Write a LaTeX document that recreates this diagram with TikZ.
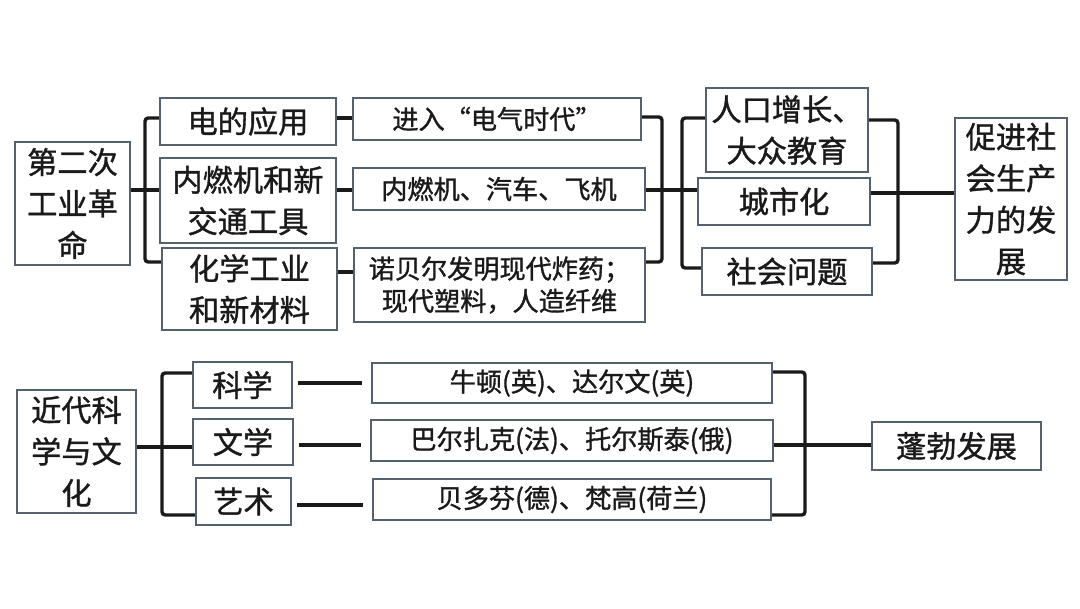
\documentclass[tikz,border=0pt]{standalone}
\usepackage{fontspec}
\setmainfont{Noto Sans CJK SC}[BoldFont={Noto Sans CJK SC},BoldFeatures={FakeBold=1.2}]
\usepackage{tikz}
\definecolor{boxedge}{RGB}{84,98,112}
\definecolor{ink}{RGB}{26,26,26}
\tikzstyle{block}=[rectangle,draw=boxedge,line width=1.6pt,inner sep=0,align=center,text=ink,font=\fontsize{21.5}{29.5}\selectfont\bfseries]
\tikzstyle{small}=[font=\fontsize{18.6}{23}\selectfont\bfseries]
\tikzstyle{link}=[line width=2.4pt,draw=ink,rounded corners=0.08cm]

\begin{document}
\begin{tikzpicture}[x=0.025cm,y=-0.025cm]
    \useasboundingbox (0,0) rectangle (1080,608);

    % second industrial revolution
    \node[block,minimum width=2.875cm,minimum height=3.075cm] (rev) at (72.5,203.5) {第二次\\工业革\\命};
    \node[block,minimum width=4.4cm,minimum height=1.175cm] (elec) at (248,121.5) {电的应用};
    \node[block,minimum width=4.4cm,minimum height=2.125cm] (engine) at (248,200.5) {内燃机和新\\交通工具};
    \node[block,minimum width=4.375cm,minimum height=2.05cm] (chem) at (249.5,289) {化学工业\\和新材料};
    \node[block,small,minimum width=7.2cm,minimum height=1.05cm] (era) at (497,119) {进入“电气时代”};
    \node[block,small,minimum width=7.3cm,minimum height=1.05cm] (cars) at (499,189) {内燃机、汽车、飞机};
    \node[block,small,minimum width=7.275cm,minimum height=1.85cm] (nobel) at (499.5,285) {诺贝尔发明现代炸药；\\现代塑料，人造纤维};
    \node[block,minimum width=4.05cm,minimum height=2.1cm] (people) at (787,130) {人口增长、\\大众教育};
    \node[block,minimum width=4.3cm,minimum height=1.175cm] (city) at (784,201.5) {城市化};
    \node[block,minimum width=4.25cm,minimum height=1.175cm] (issue) at (787,271.5) {社会问题};
    \node[block,minimum width=2.8cm,minimum height=4.05cm] (growth) at (1011,199) {促进社\\会生产\\力的发\\展};

    % modern science and culture
    \node[block,minimum width=2.975cm,minimum height=3.075cm] (culture) at (76.5,451.5) {近代科\\学与文\\化};
    \node[block,minimum width=2.475cm,minimum height=1.15cm] (science) at (242.5,385) {科学};
    \node[block,minimum width=2.5cm,minimum height=1.15cm] (letters) at (243,442) {文学};
    \node[block,minimum width=2.375cm,minimum height=1.175cm] (arts) at (243.5,501.5) {艺术};
    \node[block,small,minimum width=10cm,minimum height=1.0cm] (newton) at (572,383) {牛顿(英)、达尔文(英)};
    \node[block,small,minimum width=10.05cm,minimum height=1.025cm] (balzac) at (572,440.5) {巴尔扎克(法)、托尔斯泰(俄)};
    \node[block,small,minimum width=9.95cm,minimum height=1.025cm] (ludwig) at (572,499.5) {贝多芬(德)、梵高(荷兰)};
    \node[block,minimum width=4.225cm,minimum height=1.2cm] (boom) at (956.5,446) {蓬勃发展};

    % brackets, upper part
    \draw[link] (elec.west |- 0,118) -| (145,262) -- (chem.west |- 0,262);
    \draw[link] (rev.east |- 0,190) -- (engine.west |- 0,190);
    \draw[link] (elec.east |- 0,118) -- (era.west |- 0,118);
    \draw[link] (engine.east |- 0,190) -- (cars.west |- 0,190);
    \draw[link] (chem.east |- 0,272) -- (nobel.west |- 0,272);
    \draw[link] (era.east |- 0,117) -| (662,262) -- (nobel.east |- 0,262);
    \draw[link] (cars.east |- 0,190) -- (city.west |- 0,190);
    \draw[link] (people.west |- 0,118) -| (682,268) -- (issue.west |- 0,268);
    \draw[link] (people.east |- 0,120) -| (898,263) -- (issue.east |- 0,263);
    \draw[link] (city.east |- 0,193) -- (growth.west |- 0,193);

    % brackets, lower part
    \draw[link] (science.west |- 0,373) -| (162,515) -- (arts.west |- 0,515);
    \draw[link] (culture.east |- 0,447) -- (letters.west |- 0,447);
    \draw[link,shorten <=0.125cm,shorten >=0.225cm] (science.east |- 0,383) -- (newton.west |- 0,383);
    \draw[link,shorten <=0.125cm,shorten >=0.225cm] (letters.east |- 0,445) -- (balzac.west |- 0,445);
    \draw[link,shorten <=0.125cm,shorten >=0.225cm] (arts.east |- 0,505) -- (ludwig.west |- 0,505);
    \draw[link] (newton.east |- 0,372) -| (805,515) -- (ludwig.east |- 0,515);
    \draw[link] (balzac.east |- 0,445) -- (boom.west |- 0,445);
\end{tikzpicture}
\end{document}
